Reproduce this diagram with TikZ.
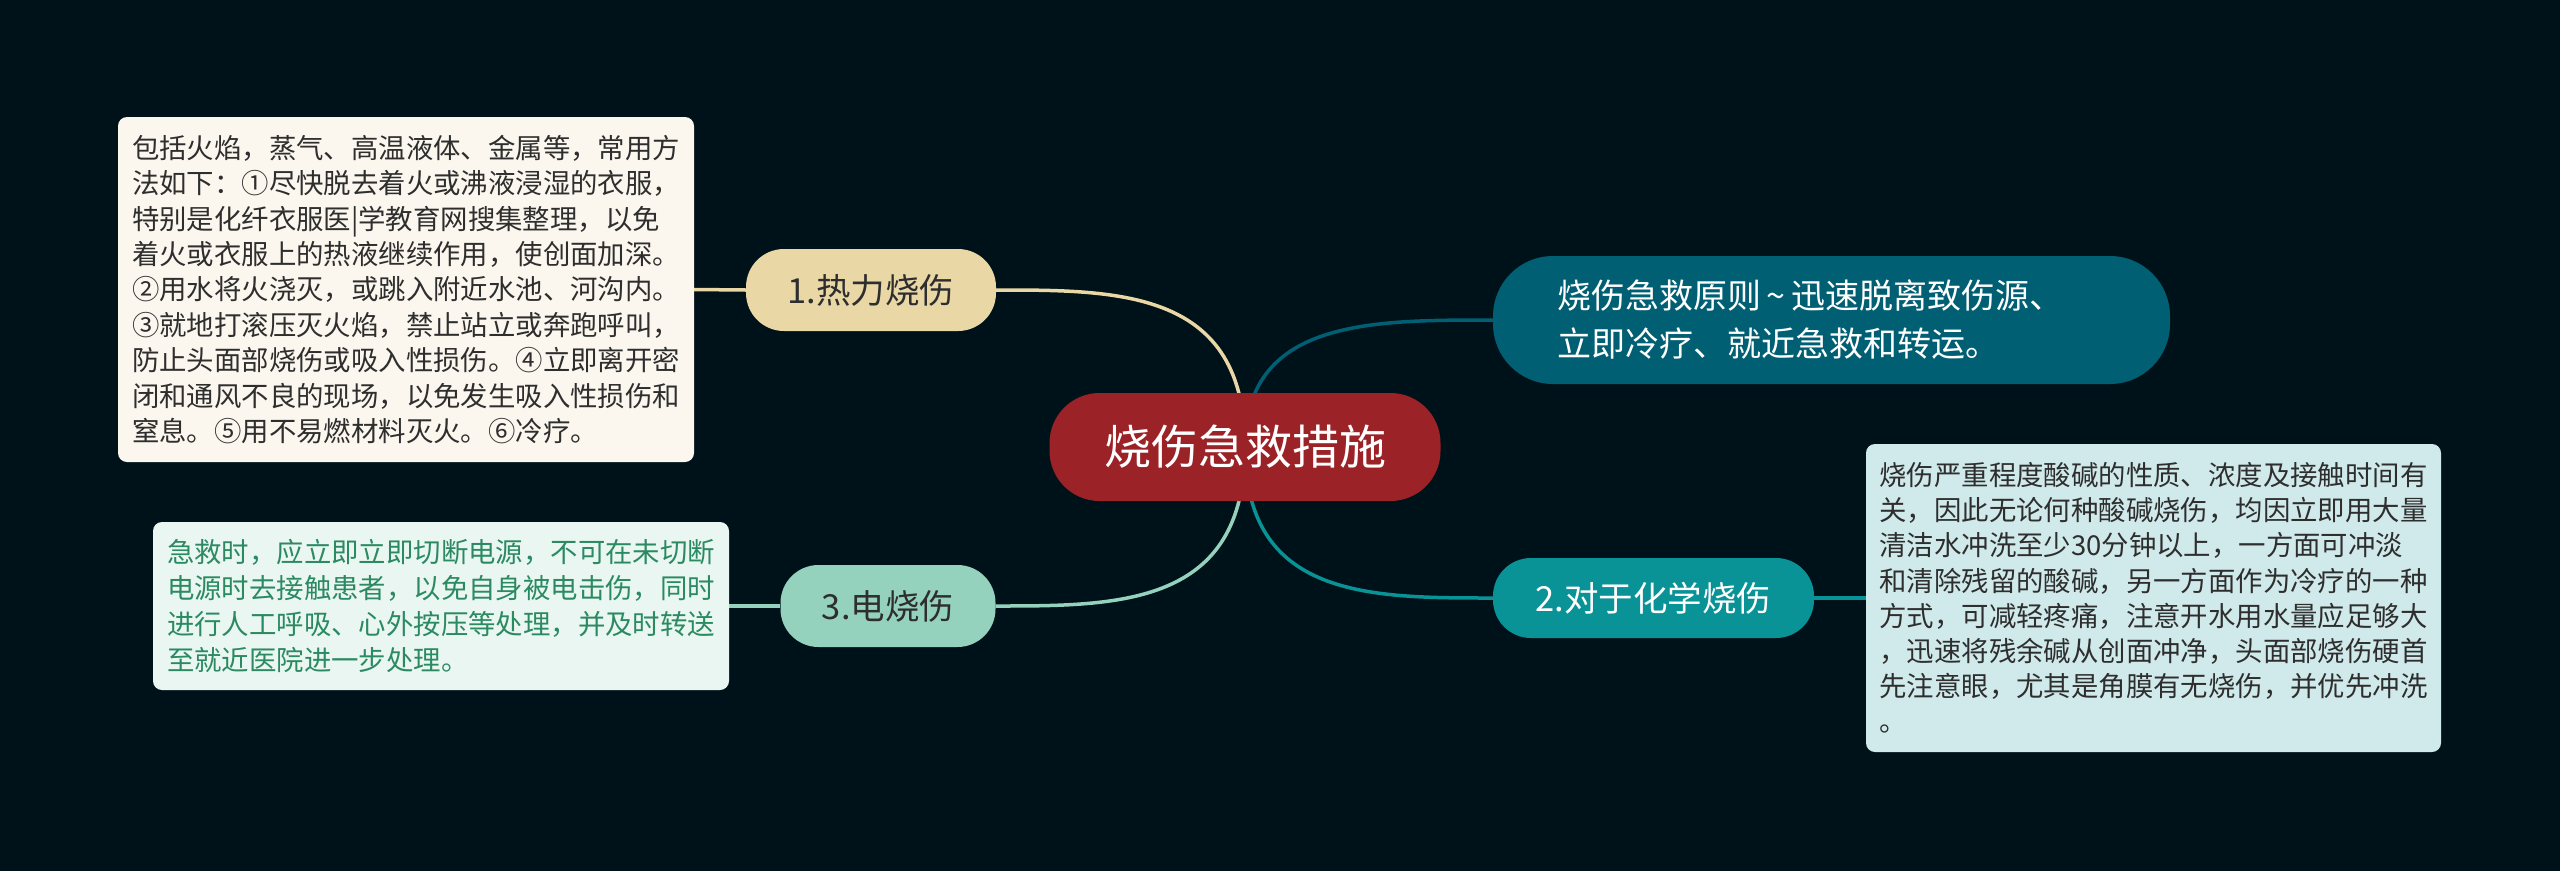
\documentclass[tikz,border=0pt]{standalone}
\usepackage{fontspec}
\newfontfamily\cjk{Noto Sans CJK SC}
\usetikzlibrary{calc}
\definecolor{bgc}{HTML}{001219}
\definecolor{rootred}{HTML}{9B2226}
\definecolor{sand}{HTML}{E9D8A6}
\definecolor{mint}{HTML}{94D2BD}
\definecolor{deepteal}{HTML}{005F73}
\definecolor{teal}{HTML}{0A9396}
\definecolor{boxcream}{HTML}{FBF7EE}
\definecolor{boxmint}{HTML}{EAF6F1}
\definecolor{boxcyan}{HTML}{D0E9EA}
\definecolor{greentext}{HTML}{2B8A62}
\definecolor{darktext}{HTML}{2E2E2E}
\pgfdeclarelayer{bgfill}
\pgfdeclarelayer{links}
\pgfsetlayers{bgfill,links,main}
\tikzset{
  pill/.style={inner sep=0pt, align=center},
  topic/.style={pill, minimum height=82pt, rounded corners=38pt, font=\cjk\fontsize{34.5}{42}\selectfont},
  infobox/.style={rounded corners=9pt, align=left, inner sep=0pt},
  curve/.style={line width=3.5pt},
  stub/.style={line width=3.5pt}
}
\begin{document}
\begin{tikzpicture}[x=1pt,y=-1pt]
\useasboundingbox (0,0) rectangle (2560,871);
\begin{pgfonlayer}{bgfill}
\fill[bgc] (0,0) rectangle (2560,871);
\end{pgfonlayer}

% root
\node[pill, fill=rootred, text=white, minimum width=391pt, minimum height=108pt, rounded corners=50pt,
      font=\cjk\fontsize{47}{56}\selectfont] (root) at (1245,447) {烧伤急救措施};

% level-1 topics
\node[topic, fill=sand, text=darktext, minimum width=250pt] (n1) at (871,290) {1.热力烧伤};
\node[topic, fill=mint, text=darktext, minimum width=215pt] (n3) at (888,606) {3.电烧伤};
\node[topic, fill=teal, text=white, minimum width=321pt, minimum height=80pt] (n2) at (1653.5,598) {2.对于化学烧伤};
\node[pill, fill=deepteal, text=white, align=left, text width=549pt, inner xsep=64pt,
      minimum width=677pt, minimum height=128pt, rounded corners=60pt,
      font=\cjk\fontsize{34}{48}\selectfont] (n0) at (1831.5,320)
      {烧伤急救原则\,\textasciitilde\,迅速脱离致伤源、\\立即冷疗、就近急救和转运。};

% detail boxes
\node[infobox, fill=boxcream, text=darktext, minimum width=576pt, minimum height=345pt,
      font=\cjk\fontsize{27.4}{35.4}\selectfont] (b1) at (406,289.5)
{包括火焰，蒸气、高温液体、金属等，常用方\\
法如下：①尽快脱去着火或沸液浸湿的衣服，\\
特别是化纤衣服医|学教育网搜集整理，以免\\
着火或衣服上的热液继续作用，使创面加深。\\
②用水将火浇灭，或跳入附近水池、河沟内。\\
③就地打滚压灭火焰，禁止站立或奔跑呼叫，\\
防止头面部烧伤或吸入性损伤。④立即离开密\\
闭和通风不良的现场，以免发生吸入性损伤和\\
窒息。⑤用不易燃材料灭火。⑥冷疗。};

\node[infobox, fill=boxmint, text=greentext, minimum width=576pt, minimum height=168pt,
      font=\cjk\fontsize{27.4}{36.3}\selectfont] (b3) at (441,606)
{急救时，应立即立即切断电源，不可在未切断\\
电源时去接触患者，以免自身被电击伤，同时\\
进行人工呼吸、心外按压等处理，并及时转送\\
至就近医院进一步处理。};

\node[infobox, fill=boxcyan, text=darktext, minimum width=575pt, minimum height=308pt,
      font=\cjk\fontsize{27.4}{35.2}\selectfont] (b2) at (2153.5,598)
{烧伤严重程度酸碱的性质、浓度及接触时间有\\
关，因此无论何种酸碱烧伤，均因立即用大量\\
清洁水冲洗至少30分钟以上，一方面可冲淡\\
和清除残留的酸碱，另一方面作为冷疗的一种\\
方式，可减轻疼痛，注意开水用水量应足够大\\
，迅速将残余碱从创面冲净，头面部烧伤硬首\\
先注意眼，尤其是角膜有无烧伤，并优先冲洗\\
。};

% connectors
\begin{pgfonlayer}{links}
\draw[curve, sand] (root.center) .. controls (root.center |- n1.east) and ($(n1.east)+(124,0)$) .. (n1.east);
\draw[curve, mint] (root.center) .. controls (root.center |- n3.east) and ($(n3.east)+(124,0)$) .. (n3.east);
\draw[curve, deepteal] (root.center) .. controls (root.center |- n0.west) and ($(n0.west)+(-124,0)$) .. (n0.west);
\draw[curve, teal] (root.center) .. controls (root.center |- n2.west) and ($(n2.west)+(-124,0)$) .. (n2.west);
\draw[stub, sand] (b1.east) -- (n1.west);
\draw[stub, mint] (b3.east) -- (n3.west);
\draw[stub, teal] (n2.east) -- (b2.west);
\end{pgfonlayer}
\end{tikzpicture}
\end{document}
